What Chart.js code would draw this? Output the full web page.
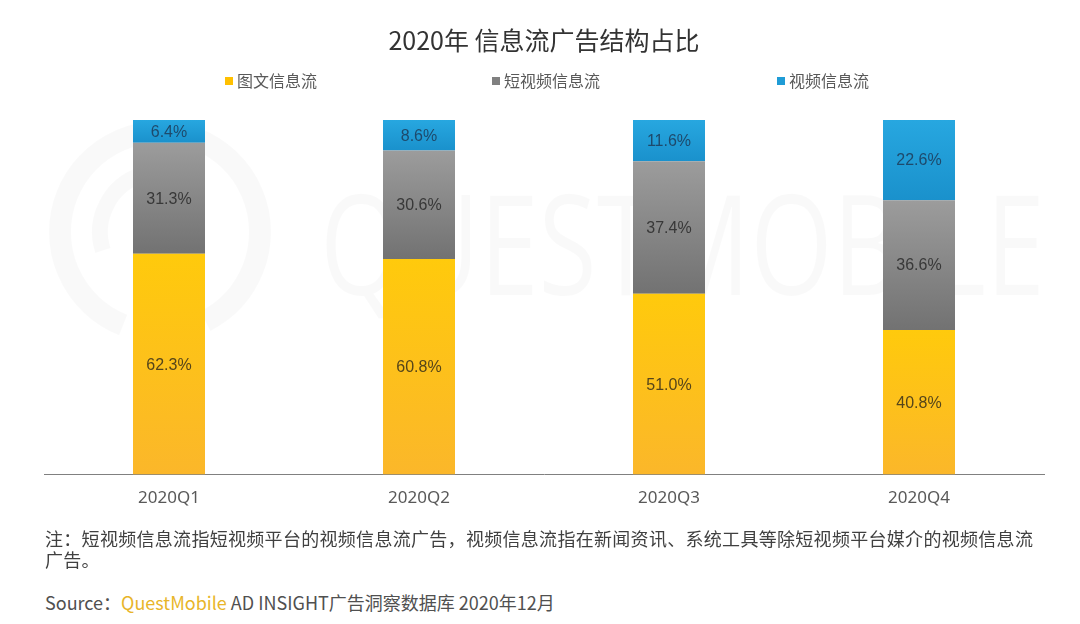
<!DOCTYPE html>
<html>
<head>
<meta charset="utf-8">
<script src="https://cdn.jsdelivr.net/npm/chart.js@4.4.1/dist/chart.umd.min.js"></script>
<style>
  html, body { margin: 0; padding: 0; background: #fff; }
  body { width: 1080px; height: 624px; position: relative; overflow: hidden; font-family: "Noto Sans CJK SC", "Noto Sans", sans-serif; }
  #wrap { position: absolute; left: 0; top: 0; width: 1080px; height: 534px; }
  #legend { position: absolute; top: 70px; left: 0; height: 20px; font-size: 16px; color: #595959; }
  .item { position: absolute; top: 0; white-space: nowrap; line-height: 20px; }
  .item i { display: inline-block; width: 8px; height: 8px; margin-right: 4px; vertical-align: 2px; }
  #note { position: absolute; left: 45px; top: 528px; font-size: 18px; line-height: 21px; color: #404040; letter-spacing: 0.3px; white-space: nowrap; }
  #source { position: absolute; left: 45px; top: 590px; font-size: 18px; line-height: 24px; color: #505050; white-space: nowrap; }
  #source .qm { color: #E8B52A; }
</style>
</head>
<body>
<div id="wrap"><canvas id="grafico"></canvas></div>
<div id="legend"></div>
<div id="note">注：短视频信息流指短视频平台的视频信息流广告，视频信息流指在新闻资讯、系统工具等除短视频平台媒介的视频信息流<br>广告。</div>
<div id="source">Source：<span class="qm">QuestMobile</span> AD INSIGHT广告洞察数据库 2020年12月</div>
<script>
const trimestres = ["2020Q1", "2020Q2", "2020Q3", "2020Q4"];
const tuwen = [62.3, 60.8, 51.0, 40.8];
const duanshipin = [31.3, 30.6, 37.4, 36.6];
const shipin = [6.4, 8.6, 11.6, 22.6];
const series = ["图文信息流", "短视频信息流", "视频信息流"];

const colores = [
  { top: "#FFCA0C", bottom: "#FBB72A", flat: "#FFC000", label: "#55451a" },
  { top: "#9c9c9c", bottom: "#727272", flat: "#808080", label: "#383838" },
  { top: "#27A7E0", bottom: "#1A91CC", flat: "#1F9CD6", label: "#1e4a6c" }
];
const valores = [tuwen, duanshipin, shipin];

// leyenda en HTML (posiciones como en el original)
const legendPos = [225, 492, 777];
const legendDiv = document.getElementById("legend");
series.forEach((s, i) => {
  const d = document.createElement("div");
  d.className = "item";
  d.style.left = legendPos[i] + "px";
  d.innerHTML = '<i style="background:' + colores[i].flat + '"></i>' + s;
  legendDiv.appendChild(d);
});

// degradado vertical por segmento
function fondo(ctx) {
  const chart = ctx.chart;
  const ds = ctx.datasetIndex;
  const c = colores[ds];
  if (!chart.chartArea || ctx.type !== "data") return c.flat;
  const y = chart.scales.y;
  let base = 0;
  for (let k = 0; k < ds; k++) base += valores[k][ctx.dataIndex];
  const top = base + valores[ds][ctx.dataIndex];
  const y0 = y.getPixelForValue(top), y1 = y.getPixelForValue(base);
  if (!isFinite(y0) || !isFinite(y1) || y0 === y1) return c.flat;
  const g = chart.ctx.createLinearGradient(0, y0, 0, y1);
  g.addColorStop(0, c.top);
  g.addColorStop(1, c.bottom);
  return g;
}

const marcaAgua = {
  id: "marcaAgua",
  beforeDatasetsDraw(chart) {
    const ctx = chart.ctx;
    ctx.save();
    ctx.strokeStyle = "rgba(0,0,0,0.022)";
    ctx.lineWidth = 22;
    ctx.beginPath(); ctx.arc(160, 232, 100, Math.PI * 0.62, Math.PI * 2.35); ctx.stroke();
    ctx.lineWidth = 16;
    ctx.beginPath(); ctx.arc(160, 232, 60, Math.PI * 0.9, Math.PI * 1.6); ctx.stroke();
    ctx.fillStyle = "rgba(0,0,0,0.022)";
    ctx.font = "400 140px 'Open Sans'";
    ctx.textBaseline = "middle";
    const txt = "QUESTMOBILE";
    const w = ctx.measureText(txt).width;
    ctx.translate(320, 255);
    ctx.scale(725 / w, 1);
    ctx.fillText(txt, 0, 0);
    ctx.restore();
  }
};

const etiquetas = {
  id: "etiquetas",
  afterDatasetsDraw(chart) {
    const ctx = chart.ctx;
    ctx.save();
    ctx.font = "16px 'Liberation Sans', Arial, sans-serif";
    ctx.textAlign = "center";
    ctx.textBaseline = "middle";
    chart.data.datasets.forEach((ds, i) => {
      const meta = chart.getDatasetMeta(i);
      ctx.fillStyle = colores[i].label;
      meta.data.forEach((el, j) => {
        ctx.fillText(ds.data[j].toFixed(1) + "%", el.x, (el.y + el.base) / 2 + 1);
      });
    });
    ctx.restore();
  }
};

new Chart(document.getElementById("grafico"), {
  type: "bar",
  data: {
    labels: trimestres,
    datasets: series.map((s, i) => ({
      label: s,
      data: valores[i],
      backgroundColor: fondo,
      borderWidth: 0,
      barPercentage: 0.288,
      categoryPercentage: 1
    }))
  },
  options: {
    responsive: true,
    maintainAspectRatio: false,
    animation: false,
    layout: { padding: { left: 44, right: 36, top: 0, bottom: 13 } },
    scales: {
      x: {
        stacked: true,
        grid: { display: false, drawTicks: false },
        border: { display: true, color: "#808080", width: 1 },
        ticks: { color: "#595959", padding: 13, font: { size: 17, family: "'Noto Sans', sans-serif" } }
      },
      y: {
        stacked: true,
        display: false,
        min: 0,
        max: 100
      }
    },
    plugins: {
      legend: { display: false },
      tooltip: { enabled: false },
      title: {
        display: true,
        text: "2020年 信息流广告结构占比",
        color: "#333333",
        font: { size: 25, weight: "normal", family: "'Noto Sans CJK SC', sans-serif" },
        padding: { top: 25, bottom: 65 }
      }
    }
  },
  plugins: [marcaAgua, etiquetas]
});
</script>
</body>
</html>
